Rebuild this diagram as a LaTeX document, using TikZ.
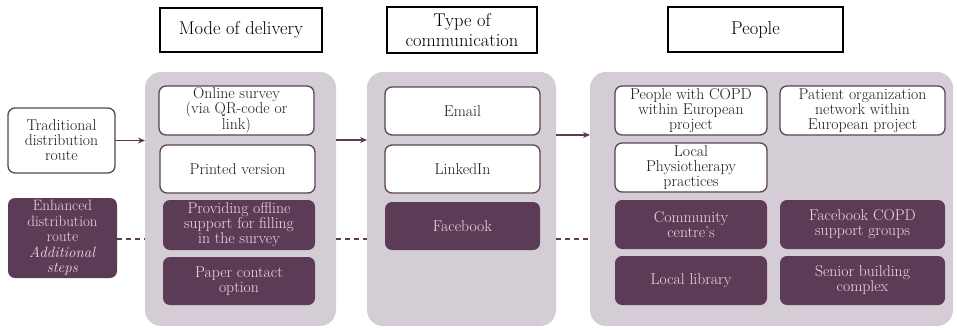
\documentclass[tikz,border=0pt]{standalone}
\usetikzlibrary{arrows.meta,calc}
\definecolor{dpurple}{HTML}{5C3B57}
\definecolor{pgray}{HTML}{D5CDD5}
\definecolor{ltext}{HTML}{EADBE6}
\definecolor{bordc}{HTML}{5A4556}
\definecolor{dtext}{HTML}{1E1A1C}
\begin{document}
\begin{tikzpicture}[x=1pt,y=-1pt,
  every node/.style={anchor=north west, outer sep=0pt, inner sep=1pt, align=center},
  panel/.style={fill=pgray, draw=none, rounded corners=16pt},
  wbox/.style={draw=bordc, line width=1.3pt, fill=white, rounded corners=7pt, text=dtext,
    font=\fontsize{15.7}{15}\selectfont},
  dbox/.style={fill=dpurple, draw=none, rounded corners=7pt, text=ltext,
    font=\fontsize{15.7}{15}\selectfont},
  hbox/.style={draw=black, line width=1.8pt, fill=white, text=black,
    font=\fontsize{18.5}{19.5}\selectfont},
  arr/.style={-{Stealth[length=7pt,width=6pt]}, draw=dpurple, line width=1.3pt},
  dsh/.style={draw=dpurple, line width=1.3pt, dash pattern=on 5pt off 4pt}]
\useasboundingbox (0,0) rectangle (957,329);
% headers
\node[hbox, minimum width=162pt, minimum height=44pt] (hmode) at (160,8) {Mode of delivery};
\node[hbox, minimum width=150pt, minimum height=46pt] (hcomm) at (387,7) {Type of\\communication};
\node[hbox, minimum width=175pt, minimum height=45pt] (hpeople) at (668,7) {People};
% panels
\node[panel, minimum width=191pt, minimum height=254pt] (p1) at (145,72) {};
\node[panel, minimum width=189pt, minimum height=254pt] (p2) at (367,72) {};
\node[panel, minimum width=363pt, minimum height=254pt] (p3) at (590,72) {};
% panel 1
\node[wbox, minimum width=155pt, minimum height=49pt] (online) at (159,86) {Online survey\\(via QR-code or\\link)};
\node[wbox, minimum width=155pt, minimum height=48pt] (printed) at (160,145) {Printed version};
\node[dbox, minimum width=152pt, minimum height=50pt] (offline) at (163,200) {Providing offline\\support for filling\\in the survey};
\node[dbox, minimum width=152pt, minimum height=48pt] (paper) at (163,257) {Paper contact\\option};
% panel 2
\node[wbox, minimum width=155pt, minimum height=48pt] (email) at (385,87) {Email};
\node[wbox, minimum width=155pt, minimum height=48pt] (linkedin) at (385,145) {LinkedIn};
\node[dbox, minimum width=155pt, minimum height=48pt] (facebook) at (385,202) {Facebook};
% panel 3
\node[wbox, minimum width=152pt, minimum height=49pt] (copd) at (615,86) {People with COPD\\within European\\project};
\node[wbox, minimum width=165pt, minimum height=49pt] (porg) at (780,86) {Patient organization\\network within\\European project};
\node[wbox, minimum width=152pt, minimum height=49pt] (physio) at (615,143) {Local\\Physiotherapy\\practices};
\node[dbox, minimum width=152pt, minimum height=49pt] (community) at (615,200) {Community\\centre's};
\node[dbox, minimum width=165pt, minimum height=49pt] (fbcopd) at (780,200) {Facebook COPD\\support groups};
\node[dbox, minimum width=152pt, minimum height=49pt] (library) at (615,256) {Local library};
\node[dbox, minimum width=165pt, minimum height=49pt] (senior) at (780,256) {Senior building\\complex};
% left
\node[wbox, minimum width=107pt, minimum height=65pt] (trad) at (8,108) {Traditional\\distribution\\route};
\node[dbox, minimum width=109pt, minimum height=80pt, font=\fontsize{15}{15.5}\selectfont] (enh) at (8,198) {Enhanced\\distribution\\route\\\textit{Additional}\\\textit{steps}};
% connectors
\coordinate (m1) at ($(online.south)!0.5!(printed.north)$);
\coordinate (dl) at (0,239);
\draw[arr] (trad.east) -- (trad.east -| p1.west);
\draw[arr] (p1.east |- m1) -- (p2.west |- m1);
\draw[arr] (p2.east |- email.south) -- (p3.west |- email.south);
\draw[dsh] (enh.east |- dl) -- (p1.west |- dl);
\draw[dsh] (p1.east |- dl) -- (p2.west |- dl);
\draw[dsh] (p2.east |- dl) -- (p3.west |- dl);
\end{tikzpicture}
\end{document}
